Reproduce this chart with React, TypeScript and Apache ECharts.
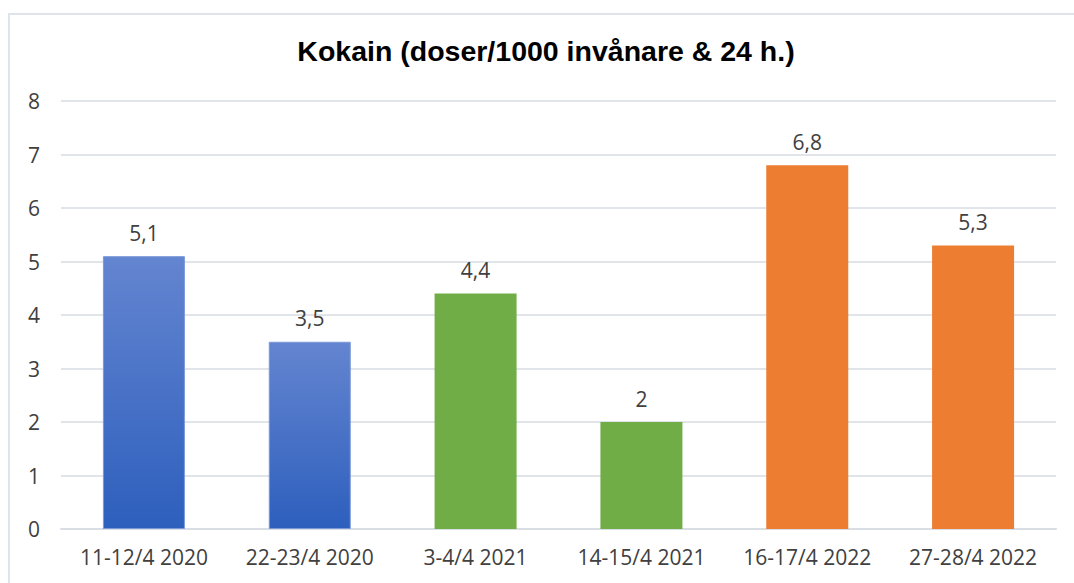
import React, { useEffect, useRef } from "react";
import * as echarts from "echarts";

const titleText = "Kokain (doser/1000 invånare & 24 h.)";
const categories = [
  "11-12/4 2020",
  "22-23/4 2020",
  "3-4/4 2021",
  "14-15/4 2021",
  "16-17/4 2022",
  "27-28/4 2022",
];
const values = [5.1, 3.5, 4.4, 2, 6.8, 5.3];
const years = ["2020", "2020", "2021", "2021", "2022", "2022"];
const yTicks = { min: 0, max: 8, interval: 1 };

const blueGradient = () =>
  new echarts.graphic.LinearGradient(0, 0, 0, 1, [
    { offset: 0, color: "#6485d0" },
    { offset: 1, color: "#2d5fbd" },
  ]);

const yearStyle: Record<string, any> = {
  "2020": () => ({ color: blueGradient(), borderColor: "#7c98d8", borderWidth: 1 }),
  "2021": () => ({ color: "#70ad47" }),
  "2022": () => ({ color: "#ed7d31" }),
};

export default function App() {
  const ref = useRef<HTMLDivElement>(null);
  useEffect(() => {
    if (!ref.current) return;
    const chart = echarts.init(ref.current, null, { renderer: "svg" });
    const font = "'Open Sans', sans-serif";
    chart.setOption({
      animation: false,
      backgroundColor: "#ffffff",
      title: {
        text: titleText,
        left: 541,
        textAlign: "center",
        top: 31,
        textStyle: {
          fontFamily: "'Liberation Sans', Arial, sans-serif",
          fontWeight: "bold",
          fontSize: 28.5,
          color: "#000000",
        },
      },
      graphic: [
        {
          type: "rect",
          shape: { x: 9, y: 14, width: 1200, height: 700 },
          style: { fill: "none", stroke: "#dfe3ea", lineWidth: 2 },
          silent: true,
          z: 0,
        },
      ],
      grid: { left: 61, right: 18, top: 101, bottom: 54, containLabel: false },
      xAxis: {
        type: "category",
        data: categories,
        axisLine: { show: true, lineStyle: { color: "#d9dde4", width: 2 } },
        axisTick: { show: false },
        axisLabel: {
          interval: 0,
          margin: 17,
          fontFamily: font,
          fontSize: 21,
          color: "#404040",
        },
      },
      yAxis: {
        type: "value",
        min: yTicks.min,
        max: yTicks.max,
        interval: yTicks.interval,
        axisLine: { show: false },
        axisTick: { show: false },
        splitLine: { lineStyle: { color: "#e1e4e9", width: 2 } },
        axisLabel: {
          margin: 21,
          fontFamily: font,
          fontSize: 21,
          color: "#404040",
        },
      },
      series: [
        {
          type: "bar",
          barWidth: 82,
          data: values.map((v, i) => ({
            value: v,
            itemStyle: yearStyle[years[i]](),
          })),
          label: {
            show: true,
            position: "top",
            distance: 13,
            fontFamily: font,
            fontSize: 21,
            color: "#404040",
            formatter: (p: any) => String(p.value).replace(".", ","),
          },
        },
      ],
    });
    return () => chart.dispose();
  }, []);
  return (
    <div
      ref={ref}
      style={{ position: "fixed", left: 0, top: 0, width: 1074, height: 583 }}
    />
  );
}
